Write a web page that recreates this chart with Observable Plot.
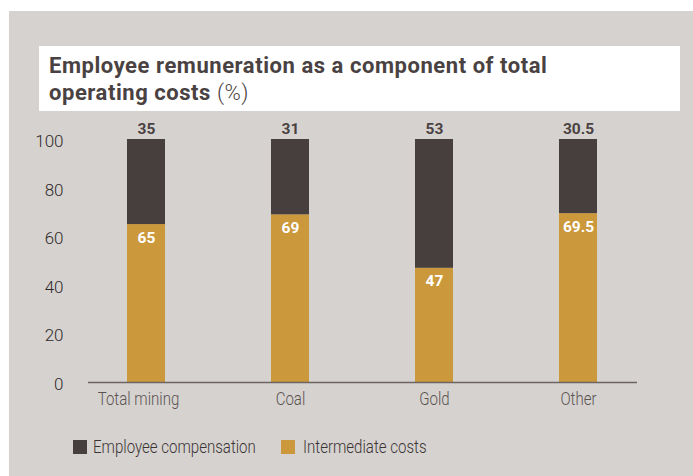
<!DOCTYPE html>
<html>
<head>
<meta charset="utf-8">
<script src="https://cdn.jsdelivr.net/npm/d3@7"></script>
<script src="https://cdn.jsdelivr.net/npm/@observablehq/plot@0.6"></script>
<style>
  html, body { margin: 0; padding: 0; background: #ffffff; }
  body { width: 693px; height: 476px; position: relative; overflow: hidden;
         font-family: Roboto, "DejaVu Sans Condensed", sans-serif; }
  #panel { position: absolute; left: 9px; top: 11px; right: 0; bottom: 0; background: #d6d2cf; }
  #titlebox { position: absolute; left: 39px; top: 46px; width: 641px; height: 65px; background: #ffffff; }
  .tline { position: absolute; left: 49px; font-size: 22px; line-height: 27px; color: #4a4242; white-space: nowrap; letter-spacing: 0.55px; }
  #t1 { top: 52px; font-weight: bold; }
  #t2 { top: 79px; }
  #t2 b { font-weight: bold; }
  #t2 span { font-weight: 300; }
  #chart { position: absolute; left: 0; top: 110px; }
  .sw { position: absolute; width: 14px; height: 14px; top: 440px; }
  .lt { position: absolute; top: 435px; font-size: 17.5px; line-height: 24px; color: #3a3434; font-weight: 300;
        white-space: nowrap; transform: scaleX(0.86); transform-origin: 0 50%; }
</style>
</head>
<body>
<div id="panel"></div>
<div id="titlebox"></div>
<div class="tline" id="t1">Employee remuneration as a component of total</div>
<div class="tline" id="t2"><b>operating costs</b> <span>(%)</span></div>
<div id="chart"></div>
<script>
const categories = ["Total mining", "Coal", "Gold", "Other"];
const employee = [35, 31, 53, 30.5];
const intermediate = [65, 69, 47, 69.5];
const seriesNames = ["Employee compensation", "Intermediate costs"];
const colors = ["#473f3d", "#cb983c"];
const yTicks = [0, 20, 40, 60, 80, 100];

const rows = [];
categories.forEach((c, i) => {
  rows.push({cat: c, series: seriesNames[1], value: intermediate[i]});
  rows.push({cat: c, series: seriesNames[0], value: employee[i]});
});
const totals = categories.map((c, i) => ({cat: c, total: employee[i] + intermediate[i], emp: employee[i], inter: intermediate[i]}));

const font = 'Roboto, "DejaVu Sans Condensed", sans-serif';

const chart = Plot.plot({
  width: 693,
  height: 310,
  marginLeft: 88,
  marginRight: 56,
  marginTop: 29,
  marginBottom: 38,
  style: {background: "transparent", fontFamily: font, fontSize: "17px", color: "#2f2a2a"},
  x: {domain: categories, paddingInner: 0.733, paddingOuter: 0.26, label: null, tickSize: 0, tickPadding: 8},
  y: {domain: [0, 100], ticks: yTicks, label: null, tickSize: 0, tickPadding: 25},
  color: {domain: seriesNames, range: colors},
  marks: [
    Plot.axisY({ticks: yTicks, tickSize: 0, tickPadding: 25, label: null, fill: "#2f2a2a", fontSize: 17, fontWeight: 300, dy: 2}),
    Plot.axisX({tickSize: 0, tickPadding: 10, label: null, fill: "#5a5352", fontSize: 17.5, fontWeight: 300}),
    Plot.barY(rows, Plot.stackY({x: "cat", y: "value", fill: "series", order: [seriesNames[1], seriesNames[0]]})),
    Plot.ruleY([0], {stroke: "#6b6462", strokeWidth: 1.6}),
    Plot.text(totals, {x: "cat", y: "total", text: d => String(d.emp), dy: -10, fill: "#4a4242", fontWeight: "bold", fontSize: 15.5}),
    Plot.text(totals, {x: "cat", y: "inter", text: d => String(d.inter), dy: 13, fill: "#ffffff", fontWeight: "bold", fontSize: 15.5})
  ]
});
// condense the x tick labels horizontally, like the reference's narrow face
d3.select(chart).selectAll('g[aria-label="x-axis tick label"] text').each(function (d, i) {
  const t = d3.select(this);
  const tr = t.attr("transform") || "";
  t.attr("transform", tr + (i === 0 ? " translate(-8,0)" : "") + " scale(0.86,1)");
});
document.getElementById("chart").appendChild(chart);

const legendX = [[73, 93], [281, 303]];
seriesNames.forEach((s, i) => {
  const sw = document.createElement("div");
  sw.className = "sw";
  sw.style.left = legendX[i][0] + "px";
  sw.style.background = colors[i];
  document.body.appendChild(sw);
  const lt = document.createElement("div");
  lt.className = "lt";
  lt.style.left = legendX[i][1] + "px";
  lt.textContent = s;
  document.body.appendChild(lt);
});
</script>
</body>
</html>
